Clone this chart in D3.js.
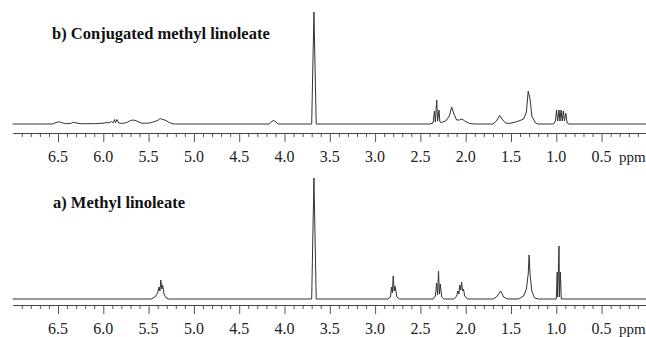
<!DOCTYPE html>
<html>
<head>
<meta charset="utf-8">
<script src="https://cdn.jsdelivr.net/npm/d3@7"></script>
<style>
  html, body { margin: 0; padding: 0; background: #fff; }
  svg { display: block; }
</style>
</head>
<body>
<svg id="chart" width="646" height="337"></svg>
<script>
// ---- data ----
const majorTicks = [6.5, 6.0, 5.5, 5.0, 4.5, 4.0, 3.5, 3.0, 2.5, 2.0, 1.5, 1.0, 0.5];
const minorTicks = [6.9,6.8,6.7,6.6,6.4,6.3,6.2,6.1,5.9,5.8,5.7,5.6,5.4,5.3,5.2,5.1,4.9,4.8,4.7,4.6,
                    4.4,4.3,4.2,4.1,3.9,3.8,3.7,3.6,3.4,3.3,3.2,3.1,2.9,2.8,2.7,2.6,2.4,2.3,2.2,2.1,
                    1.9,1.8,1.7,1.6,1.4,1.3,1.2,1.1,0.9,0.8,0.7,0.6,0.4,0.3,0.2,0.1];
const unitLabel = "ppm";
const titleB = "b) Conjugated methyl linoleate";
const titleA = "a) Methyl linoleate";

// spectrum b: [ppm, intensity]
const specB = [
  [7.0,0],[6.56,0],[6.52,1.5],[6.49,2.2],[6.46,1.5],[6.42,0.3],[6.36,0.5],[6.33,1.8],[6.30,1.0],[6.25,0.3],
  [6.10,0.3],[6.00,0.8],[5.96,1.5],[5.94,1.0],[5.91,2.5],[5.89,1.2],[5.875,4.5],[5.865,1.5],[5.85,4.5],[5.83,1],
  [5.80,0.5],[5.74,1.5],[5.70,3.5],[5.67,4],[5.63,3],[5.58,0.8],[5.50,0.8],[5.45,2],[5.40,3.5],[5.37,5.5],
  [5.35,4.5],[5.32,4],[5.28,2],[5.24,0.2],[5.20,0],
  [4.17,0],[4.14,2.5],[4.125,3.5],[4.10,2.5],[4.07,0],
  [3.70,0],[3.675,112],[3.65,0],
  [2.40,0],[2.36,1],[2.345,13],[2.335,2],[2.32,24],[2.31,3],[2.295,14],[2.285,2],[2.27,1.5],[2.22,3],
  [2.18,8],[2.155,17],[2.13,10],[2.10,4],[2.07,4],[2.04,5],[2.01,3],[1.96,0.5],[1.90,0],
  [1.70,0],[1.66,3],[1.625,8.5],[1.60,5],[1.56,1],[1.52,0.5],[1.45,2],[1.40,3.5],[1.36,5],[1.33,12],
  [1.31,33],[1.29,25],[1.27,8],[1.23,1],[1.20,0],
  [1.03,0],[1.01,3],[0.997,14],[0.985,3],[0.97,14],[0.96,3],[0.948,14],[0.935,3],[0.923,13],[0.91,3],
  [0.896,11],[0.88,1],[0.86,0],[0.0,0]
];

// spectrum a: [ppm, intensity]
const specA = [
  [7.0,0],[5.47,0],[5.43,2],[5.40,6],[5.385,12],[5.375,8],[5.365,19],[5.355,10],[5.345,14],[5.33,5],
  [5.31,1.5],[5.28,0],
  [3.70,0],[3.675,121],[3.65,0],
  [2.86,0],[2.83,2],[2.82,12],[2.81,6],[2.80,23],[2.79,8],[2.78,13],[2.76,2],[2.73,0],
  [2.36,0],[2.335,3],[2.32,16],[2.31,4],[2.30,28],[2.29,5],[2.28,15],[2.265,2],[2.24,0],
  [2.13,0],[2.10,3],[2.085,8],[2.075,5],[2.065,14],[2.055,9],[2.045,17],[2.035,8],[2.025,10],[2.01,3],[1.98,0],
  [1.70,0],[1.66,2],[1.615,8],[1.58,2],[1.54,0],
  [1.42,0],[1.36,3],[1.33,10],[1.31,25],[1.30,44],[1.29,25],[1.27,8],[1.24,1],[1.20,0],
  [1.00,0],[0.99,27],[0.985,2],[0.97,53],[0.965,2],[0.955,27],[0.945,0],[0.0,0]
];

// ---- drawing ----
const svg = d3.select("#chart");
const x = d3.scaleLinear().domain([7.0, 0.0]).range([12.7, 646.9]);
const serif = "Liberation Serif";

const panels = [
  { data: specB, title: titleB, base: 124, axisY: 133, titleX: 52, titleY: 39 },
  { data: specA, title: titleA, base: 299, axisY: 305, titleX: 53, titleY: 208 }
];

panels.forEach(p => {
  const y = d3.scaleLinear().domain([0, 125]).range([p.base, p.base - 125]);
  const g = svg.append("g");

  // spectrum
  g.append("path")
    .datum(p.data)
    .attr("fill", "none")
    .attr("stroke", "#333")
    .attr("stroke-width", 1)
    .attr("stroke-linejoin", "round")
    .attr("d", d3.line().x(d => x(d[0])).y(d => y(d[1])));

  // minor ticks
  const minorAxis = d3.axisBottom(x).tickValues(minorTicks).tickSize(4).tickSizeOuter(0).tickFormat("");
  const gm = g.append("g").attr("transform", `translate(0,${p.axisY})`).call(minorAxis);
  gm.select(".domain").remove();
  gm.selectAll("line").attr("stroke", "#555");

  // major ticks (labels drawn separately)
  const majorAxis = d3.axisBottom(x).tickValues(majorTicks).tickSize(9).tickSizeOuter(0).tickFormat("");
  const ga = g.append("g").attr("transform", `translate(0,${p.axisY})`).call(majorAxis);
  ga.select(".domain").attr("stroke", "#444");
  ga.selectAll("line").attr("stroke", "#555");

  const fmt = d3.format(".1f");
  g.append("g").selectAll("text")
    .data(majorTicks)
    .join("text")
    .attr("x", d => x(d))
    .attr("y", p.axisY + 28.5)
    .attr("text-anchor", "middle")
    .attr("font-family", serif)
    .attr("font-size", 16)
    .attr("fill", "#222")
    .text(d => fmt(d));

  // unit label
  g.append("text")
    .attr("x", 619)
    .attr("y", p.axisY + 28.5)
    .attr("font-family", serif)
    .attr("font-size", 15)
    .attr("fill", "#222")
    .text(unitLabel);

  // title
  g.append("text")
    .attr("x", p.titleX)
    .attr("y", p.titleY)
    .attr("font-family", serif)
    .attr("font-weight", "bold")
    .attr("font-size", 16.5)
    .attr("fill", "#111")
    .text(p.title);
});
</script>
</body>
</html>
